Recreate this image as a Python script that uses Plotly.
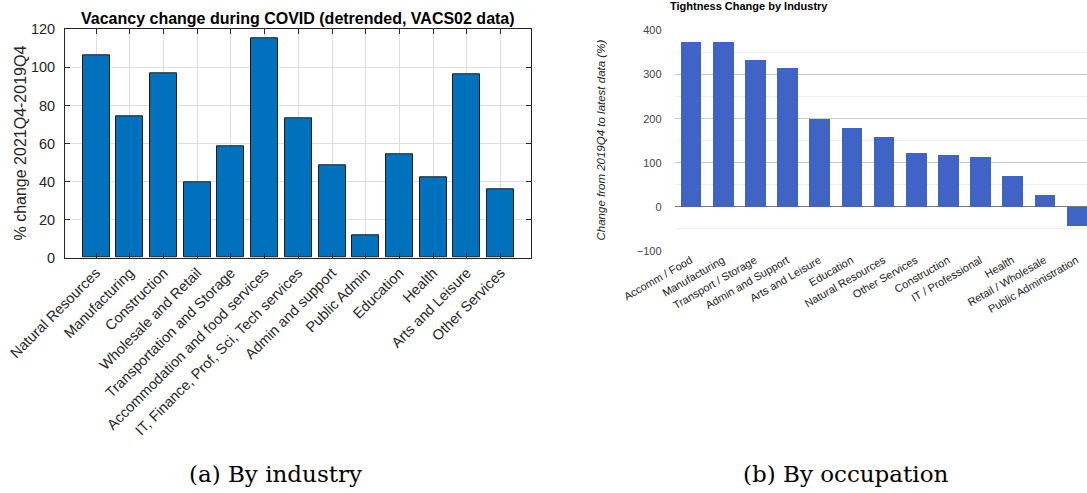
import plotly.graph_objects as go

# ---- data -------------------------------------------------------------
industries = [
    "Natural Resources", "Manufacturing", "Construction", "Wholesale and Retail",
    "Transportation and Storage", "Accommodation and food services",
    "IT, Finance, Prof, Sci, Tech services", "Admin and support", "Public Admin",
    "Education", "Health", "Arts and Leisure", "Other Services",
]
vacancy_change = [106.3, 74.2, 97.0, 39.6, 58.6, 115.1, 73.5, 48.6, 11.7, 54.2, 42.5, 96.3, 36.1]

occupations = [
    "Accomm / Food", "Manufacturing", "Transport / Storage", "Admin and Support",
    "Arts and Leisure", "Education", "Natural Resources", "Other Services",
    "Construction", "IT / Professional", "Health", "Retail / Wholesale",
    "Public Administration",
]
tightness_change = [376, 374, 335, 317, 200, 181, 159, 124, 118, 115, 72, 27, -43]

left_yticks = [0, 20, 40, 60, 80, 100, 120]
right_yticks = [-100, 0, 100, 200, 300, 400]

# ---- page geometry (pixels) --------------------------------------------
W, H = 1087, 493


def px_x(v):
    return v / W


def px_y(v):
    return 1 - v / H


fig = go.Figure()

# Panel (a): MATLAB-style bar chart
fig.add_trace(go.Bar(
    x=list(range(1, len(industries) + 1)), y=vacancy_change,
    width=0.8, marker=dict(color="#0072BD", line=dict(color="#1a1a1a", width=1)),
    xaxis="x", yaxis="y", showlegend=False,
))

# Panel (b): Google-charts-style bar chart
fig.add_trace(go.Bar(
    x=list(range(len(occupations))), y=tightness_change,
    width=0.64, marker=dict(color="#3f64c5", line=dict(width=0)),
    xaxis="x2", yaxis="y2", showlegend=False,
))

matlab_font = dict(family="Liberation Sans, Arial", size=14.5, color="#262626")
gchart_font = dict(family="Liberation Sans, Arial", size=11, color="#444444")

right_x0 = 674.5
spacing_b = 32.17

fig.update_layout(
    template="none",
    width=W, height=H,
    margin=dict(l=0, r=0, t=0, b=0, autoexpand=False),
    paper_bgcolor="white", plot_bgcolor="white",
    bargap=0,
    xaxis=dict(
        domain=[px_x(65), px_x(531)], range=[0.08, 13.9], automargin=False,
        tickvals=list(range(1, len(industries) + 1)), ticktext=industries,
        tickangle=-45, tickfont=matlab_font,
        ticks="inside", ticklen=5, tickcolor="#262626",
        showline=True, linecolor="#262626", linewidth=1, mirror="allticks",
        showgrid=True, gridcolor="#dedede", gridwidth=1, zeroline=False,
        anchor="y", fixedrange=True,
    ),
    yaxis=dict(
        domain=[px_y(257.7), px_y(29.3)], range=[0, 120], automargin=False,
        tickvals=left_yticks, tickfont=matlab_font,
        ticks="inside", ticklen=5, tickcolor="#262626",
        showline=True, linecolor="#262626", linewidth=1, mirror="allticks",
        showgrid=True, gridcolor="#dedede", gridwidth=1, zeroline=False,
        ticklabelstandoff=6,
        anchor="x", fixedrange=True,
    ),
    xaxis2=dict(
        domain=[px_x(right_x0), 1], automargin=False,
        range=[-0.5, -0.5 + (W - right_x0) / spacing_b],
        tickvals=list(range(len(occupations))), ticktext=occupations,
        tickangle=-30, tickfont=dict(family="Liberation Sans, Arial", size=11, color="#222222"),
        ticks="", showline=False, showgrid=False, zeroline=False,
        anchor="y2", fixedrange=True,
    ),
    yaxis2=dict(
        domain=[px_y(251), px_y(30.5)], range=[-100, 400], automargin=False,
        tickvals=right_yticks, tickfont=gchart_font,
        ticks="", showline=False,
        showgrid=True, gridcolor="#cccccc", gridwidth=1,
        minor=dict(dtick=50, showgrid=True, gridcolor="#eeeeee", gridwidth=1),
        zeroline=True, zerolinecolor="#7a7a7a", zerolinewidth=1.2,
        ticklabelstandoff=12,
        anchor="x2", fixedrange=True,
    ),
)

annotations = [
    # panel titles
    dict(text="<b>Vacancy change during COVID (detrended, VACS02 data)</b>",
         x=px_x(298), y=px_y(18.5), xref="paper", yref="paper",
         xanchor="center", yanchor="middle", showarrow=False,
         font=dict(family="Liberation Sans, Arial", size=16, color="#000000")),
    dict(text="<b>Tightness Change by Industry</b>",
         x=px_x(668), y=px_y(6), xref="paper", yref="paper",
         xanchor="left", yanchor="middle", showarrow=False,
         font=dict(family="Liberation Sans, Arial", size=11, color="#000000")),
    # axis titles
    dict(text="% change 2021Q4-2019Q4", textangle=-90,
         x=px_x(20), y=px_y(143.5), xref="paper", yref="paper",
         xanchor="center", yanchor="middle", showarrow=False,
         font=dict(family="Liberation Sans, Arial", size=16, color="#262626")),
    dict(text="<i>Change from 2019Q4 to latest data (%)</i>", textangle=-90,
         x=px_x(600), y=px_y(140.5), xref="paper", yref="paper",
         xanchor="center", yanchor="middle", showarrow=False,
         font=dict(family="Liberation Sans, Arial", size=11.5, color="#222222")),
    # sub-figure captions
    dict(text="(a) By industry",
         x=px_x(275), y=px_y(474), xref="paper", yref="paper",
         xanchor="center", yanchor="middle", showarrow=False,
         font=dict(family="DejaVu Serif", size=23, color="#000000")),
    dict(text="(b) By occupation",
         x=px_x(845.5), y=px_y(474), xref="paper", yref="paper",
         xanchor="center", yanchor="middle", showarrow=False,
         font=dict(family="DejaVu Serif", size=23, color="#000000")),
]
fig.update_layout(annotations=annotations)

fig.write_html("out.html")
